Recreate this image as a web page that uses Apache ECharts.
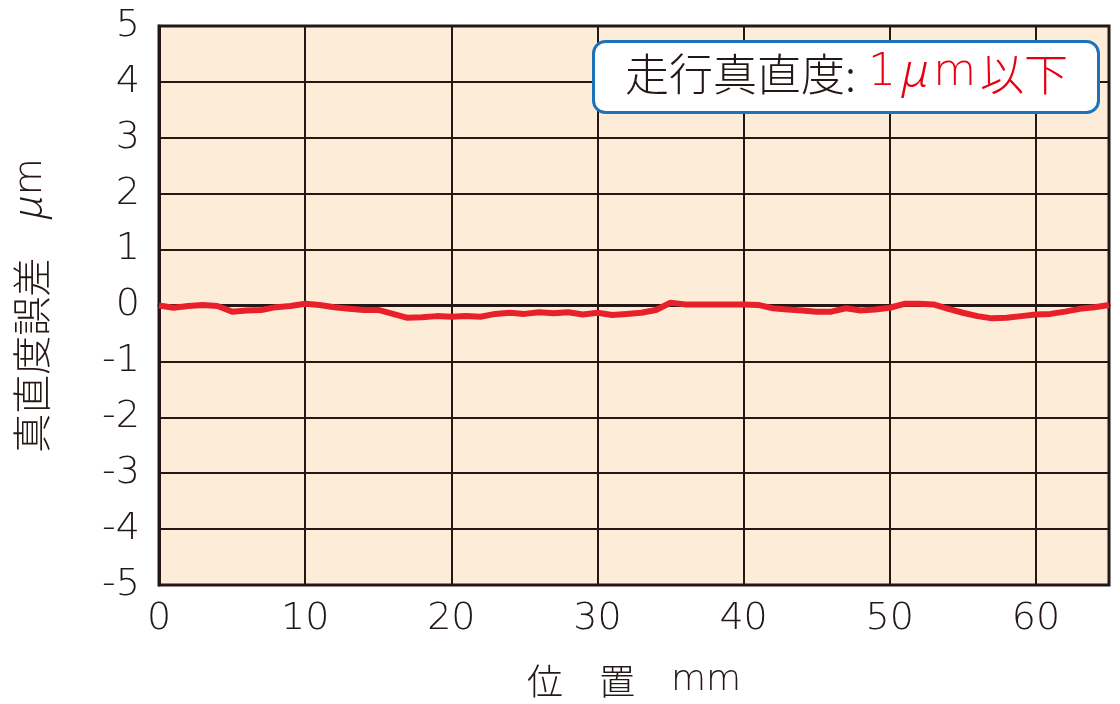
<!DOCTYPE html>
<html>
<head>
<meta charset="utf-8">
<script src="https://cdn.jsdelivr.net/npm/echarts@6/dist/echarts.min.js"></script>
<style>html,body{margin:0;padding:0;background:#fff;}#c{width:1120px;height:704px;}</style>
</head>
<body>
<div id="c"></div>
<script>
const positions = [0,1,2,3,4,5,6,7,8,9,10,11,12,13,14,15,16,17,18,19,20,21,22,23,24,25,26,27,28,29,30,31,32,33,34,35,36,37,38,39,40,41,42,43,44,45,46,47,48,49,50,51,52,53,54,55,56,57,58,59,60,61,62,63,64,65];
const errors = [0,-0.04,-0.01,0.01,-0.01,-0.11,-0.09,-0.08,-0.03,-0.01,0.03,0.01,-0.03,-0.06,-0.08,-0.08,-0.15,-0.22,-0.21,-0.19,-0.20,
  -0.19,-0.20,-0.15,-0.13,-0.15,-0.12,-0.14,-0.12,-0.16,-0.13,-0.17,-0.15,-0.13,-0.08,0.05,0.02,0.02,0.02,0.02,0.02,0.01,-0.05,-0.07,
  -0.09,-0.11,-0.11,-0.05,-0.09,-0.07,-0.04,0.03,0.03,0.02,-0.06,-0.13,-0.19,-0.23,-0.22,-0.19,-0.16,-0.15,-0.11,-0.06,-0.03,0.01];
const xAxisTitle = ['位　置　', 'mm'];
const yAxisTitle = ['真直度誤差　', 'μ', 'm'];
const noteLabel = '走行真直度:';
const noteValue = ['1', 'μ', 'm', '以下'];

const CJK = '"Noto Sans CJK JP", sans-serif';
const LAT = '"DejaVu Sans", sans-serif';
const ITA = '"Noto Sans", "Liberation Sans", sans-serif';
const INK = '#231815';
const chart = echarts.init(document.getElementById('c'));
chart.setOption({
  animation: false,
  grid: {left: 159, right: 11, top: 26, bottom: 117, show: true, backgroundColor: '#fdecd8', borderColor: INK, borderWidth: 3},
  xAxis: {
    type: 'value', min: 0, max: 65, interval: 10,
    name: '{c|' + xAxisTitle[0] + '}{l|' + xAxisTitle[1] + '}', nameLocation: 'middle', nameGap: 78,
    nameTextStyle: {rich: {
      c: {fontFamily: CJK, fontSize: 36, fontWeight: 300, color: INK},
      l: {fontFamily: LAT, fontSize: 36, fontWeight: 200, color: INK}
    }},
    axisLine: {show: true, lineStyle: {color: INK, width: 3}},
    axisTick: {show: false},
    axisLabel: {fontFamily: LAT, fontSize: 38, fontWeight: 200, color: INK, margin: 15,
      formatter: v => (v % 10 === 0 ? String(v) : '')},
    splitLine: {show: true, lineStyle: {color: INK, width: 2}}
  },
  yAxis: {
    type: 'value', min: -5, max: 5, interval: 1,
    name: '{c|' + yAxisTitle[0] + '}{i|' + yAxisTitle[1] + '}{l|' + yAxisTitle[2] + '}',
    nameLocation: 'middle', nameGap: 108, nameRotate: 90,
    nameTextStyle: {rich: {
      c: {fontFamily: CJK, fontSize: 39, fontWeight: 300, color: INK},
      i: {fontFamily: ITA, fontSize: 40, fontWeight: 300, fontStyle: 'italic', color: INK},
      l: {fontFamily: LAT, fontSize: 38, fontWeight: 200, color: INK}
    }},
    axisLine: {show: true, lineStyle: {color: INK, width: 3}},
    axisTick: {show: false},
    axisLabel: {fontFamily: LAT, fontSize: 38, fontWeight: 200, color: INK, margin: 19},
    splitLine: {show: true, lineStyle: {color: INK, width: 2}}
  },
  series: [{
    type: 'line', data: positions.map((x, i) => [x, errors[i]]),
    symbol: 'none', smooth: false,
    lineStyle: {color: '#e8202a', width: 6}
  }],
  graphic: [{
    type: 'rect', left: 592, top: 40, z: 10,
    shape: {width: 505, height: 71, r: 12},
    style: {fill: '#ffffff', stroke: '#1a73bb', lineWidth: 3}
  }, {
    type: 'text', left: 625, top: 51, z: 11,
    style: {
      text: '{a|' + noteLabel + '}{n|' + noteValue[0] + '}{i|' + noteValue[1] + '}{m|' + noteValue[2] + '}{r|' + noteValue[3] + '}',
      rich: {
        a: {fontFamily: CJK, fontSize: 44, fontWeight: 300, fill: INK, padding: [0, 12, 0, 0]},
        n: {fontFamily: LAT, fontSize: 44, fontWeight: 200, fill: '#e60012', padding: [0, 6, 0, 0]},
        i: {fontFamily: ITA, fontSize: 46, fontWeight: 300, fontStyle: 'italic', fill: '#e60012', padding: [0, 4, 0, 0]},
        m: {fontFamily: LAT, fontSize: 44, fontWeight: 200, fill: '#e60012', padding: [0, 4, 0, 0]},
        r: {fontFamily: CJK, fontSize: 44, fontWeight: 300, fill: '#e60012'}
      }
    }
  }]
});
</script>
</body>
</html>
